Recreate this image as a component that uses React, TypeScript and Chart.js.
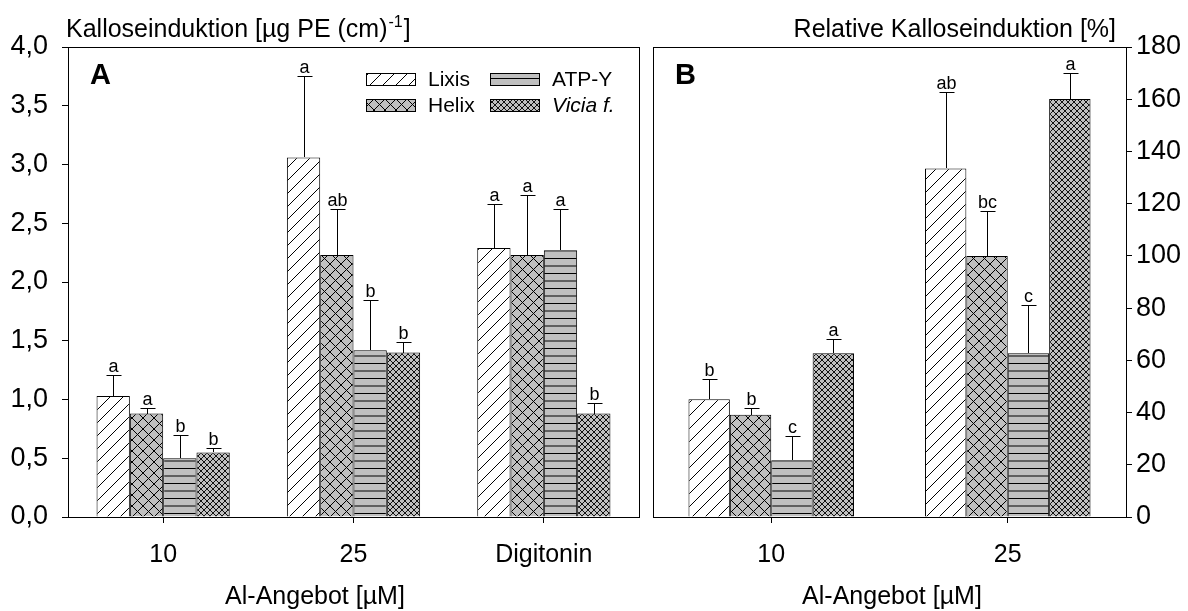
import React, { useEffect, useRef } from 'react';
import { Chart, registerables } from 'chart.js';
Chart.register(...registerables);

const FONT = '"Liberation Sans", Arial, Helvetica, sans-serif';

const seriesNames = ['Lixis', 'Helix', 'ATP-Y', 'Vicia f.'];

// Panel A
const categoriesA = ['10', '25', 'Digitonin'];
const lixisA = [1.03, 3.06, 2.29];
const helixA = [0.88, 2.23, 2.23];
const atpA = [0.5, 1.42, 2.27];
const viciaA = [0.55, 1.4, 0.88];
const lixisAErr = [1.21, 3.75, 2.66];
const helixAErr = [0.93, 2.62, 2.74];
const atpAErr = [0.7, 1.85, 2.62];
const viciaAErr = [0.59, 1.49, 0.97];
const lixisALet = ['a', 'a', 'a'];
const helixALet = ['a', 'ab', 'a'];
const atpALet = ['b', 'b', 'a'];
const viciaALet = ['b', 'b', 'b'];

// Panel B
const categoriesB = ['10', '25'];
const lixisB = [45.1, 133.5];
const helixB = [39.2, 100.0];
const atpB = [21.7, 62.7];
const viciaB = [62.7, 160.1];
const lixisBErr = [52.7, 162.8];
const helixBErr = [41.9, 117.2];
const atpBErr = [30.9, 81.3];
const viciaBErr = [68.0, 170.2];
const lixisBLet = ['b', 'ab'];
const helixBLet = ['b', 'bc'];
const atpBLet = ['c', 'c'];
const viciaBLet = ['a', 'a'];

const yTicksA = { min: 0, max: 4, step: 0.5 };
const yTicksB = { min: 0, max: 180, step: 20 };

function makePattern(kind: string): CanvasPattern {
  const c = document.createElement('canvas');
  const ctx = c.getContext('2d')!;
  if (kind === 'diag') {
    const s = 13;
    c.width = s; c.height = s;
    ctx.fillStyle = '#fff'; ctx.fillRect(0, 0, s, s);
    ctx.strokeStyle = '#000'; ctx.lineWidth = 1;
    ctx.beginPath();
    ctx.moveTo(-1, s + 1); ctx.lineTo(s + 1, -1);
    ctx.moveTo(-1, 1); ctx.lineTo(1, -1);
    ctx.moveTo(s - 1, s + 1); ctx.lineTo(s + 1, s - 1);
    ctx.stroke();
  } else if (kind === 'cross' || kind === 'dense') {
    const s = kind === 'cross' ? 11 : 6;
    c.width = s; c.height = s;
    ctx.fillStyle = '#c0c0c0'; ctx.fillRect(0, 0, s, s);
    ctx.strokeStyle = kind === 'cross' ? '#000' : '#111'; ctx.lineWidth = 1;
    ctx.beginPath();
    ctx.moveTo(-1, -1); ctx.lineTo(s + 1, s + 1);
    ctx.moveTo(-1, s + 1); ctx.lineTo(s + 1, -1);
    ctx.stroke();
  } else {
    c.width = 8; c.height = 15;
    ctx.fillStyle = '#c0c0c0'; ctx.fillRect(0, 0, 8, 15);
    ctx.fillStyle = '#000'; ctx.fillRect(0, 3, 8, 1);
    ctx.fillStyle = '#606060'; ctx.fillRect(0, 10, 8, 2);
  }
  return ctx.createPattern(c, 'repeat')!;
}

type PanelDef = {
  labels: string[];
  values: number[][];
  errs: number[][];
  letters: string[][];
  yr: { min: number; max: number; step: number };
  fmt: (v: number) => string;
  yPos: 'left' | 'right';
  yWidth: number;
  yPad: number;
  padding: { left: number; right: number; top: number; bottom: number };
  draw: (ctx: CanvasRenderingContext2D, chart: any) => void;
};

function buildConfig(p: PanelDef, patterns: CanvasPattern[]): any {
  const errPlugin = {
    id: 'errbars',
    afterDatasetsDraw(chart: any) {
      const ctx = chart.ctx as CanvasRenderingContext2D;
      const ys = chart.scales.y;
      const area = chart.chartArea;
      ctx.save();
      ctx.strokeStyle = '#000';
      ctx.lineWidth = 1;
      p.values.forEach((_, di) => {
        const meta = chart.getDatasetMeta(di);
        meta.data.forEach((el: any, i: number) => {
          const x = Math.round(el.x) + 0.5;
          const top = Math.round(el.y);
          const ey = Math.round(ys.getPixelForValue(p.errs[di][i])) + 0.5;
          ctx.beginPath();
          ctx.moveTo(x, top);
          ctx.lineTo(x, ey);
          ctx.moveTo(x - 7, ey);
          ctx.lineTo(x + 8, ey);
          ctx.stroke();
          ctx.fillStyle = '#000';
          ctx.font = `18px ${FONT}`;
          ctx.textAlign = 'center';
          ctx.textBaseline = 'alphabetic';
          ctx.fillText(p.letters[di][i], x, ey - 4);
        });
      });
      // frame
      ctx.strokeRect(Math.round(area.left) + 0.5, Math.round(area.top) + 0.5,
        Math.round(area.right - area.left), Math.round(area.bottom - area.top));
      p.draw(ctx, chart);
      ctx.restore();
    },
  };

  return {
    type: 'bar',
    data: {
      labels: p.labels,
      datasets: p.values.map((v, i) => ({
        label: seriesNames[i],
        data: v,
        backgroundColor: patterns[i],
        borderColor: '#000',
        borderWidth: 1,
        categoryPercentage: 0.7,
        barPercentage: 1.0,
      })),
    },
    options: {
      responsive: false,
      animation: false,
      devicePixelRatio: 1,
      layout: { padding: p.padding },
      plugins: { legend: { display: false }, tooltip: { enabled: false } },
      scales: {
        x: {
          grid: { offset: false, drawOnChartArea: false, drawTicks: true, tickLength: 6, color: '#000' },
          border: { display: true, color: '#000' },
          ticks: { color: '#000', font: { family: FONT, size: 25 }, padding: 17 },
          afterFit: (s: any) => { s.height = 94; },
        },
        y: {
          position: p.yPos,
          min: p.yr.min,
          max: p.yr.max,
          ticks: {
            stepSize: p.yr.step,
            color: '#000',
            font: { family: FONT, size: 27 },
            padding: p.yPad,
            callback: (v: any) => p.fmt(Number(v)),
          },
          grid: { drawOnChartArea: false, drawTicks: true, tickLength: 6, color: '#000' },
          border: { display: true, color: '#000' },
          afterFit: (s: any) => { s.width = p.yWidth; },
        },
      },
    },
    plugins: [errPlugin],
  };
}

function drawSwatch(ctx: CanvasRenderingContext2D, pat: CanvasPattern, x: number, y: number, w: number, h: number) {
  ctx.fillStyle = pat;
  ctx.fillRect(x, y, w, h);
  ctx.strokeStyle = '#000';
  ctx.lineWidth = 1;
  ctx.strokeRect(x + 0.5, y + 0.5, w - 1, h - 1);
}

export default function App() {
  const refA = useRef<HTMLCanvasElement>(null);
  const refB = useRef<HTMLCanvasElement>(null);

  useEffect(() => {
    const patterns = [makePattern('diag'), makePattern('cross'), makePattern('horiz'), makePattern('dense')];

    const defA: PanelDef = {
      labels: categoriesA,
      values: [lixisA, helixA, atpA, viciaA],
      errs: [lixisAErr, helixAErr, atpAErr, viciaAErr],
      letters: [lixisALet, helixALet, atpALet, viciaALet],
      yr: yTicksA,
      fmt: (v) => v.toFixed(1).replace('.', ','),
      yPos: 'left',
      yWidth: 68,
      yPad: 14,
      padding: { left: 0, right: 549, top: 47, bottom: 0 },
      draw: (ctx, chart) => {
        ctx.fillStyle = '#000';
        ctx.textAlign = 'left';
        ctx.textBaseline = 'alphabetic';
        ctx.font = `25px ${FONT}`;
        const main = 'Kalloseinduktion [µg PE (cm)';
        ctx.fillText(main, 66, 37);
        const w = ctx.measureText(main).width;
        ctx.font = `16px ${FONT}`;
        ctx.fillText('-1', 66 + w + 1, 27);
        const w2 = ctx.measureText('-1').width;
        ctx.font = `25px ${FONT}`;
        ctx.fillText(']', 66 + w + w2 + 2, 37);
        ctx.font = `bold 29px ${FONT}`;
        ctx.fillText('A', 90, 84);
        ctx.font = `25px ${FONT}`;
        ctx.textAlign = 'center';
        ctx.fillText('Al-Angebot [µM]', 315, 604);
        // legend
        const sw = 50, sh = 13;
        const cols = [366, 490];
        const rows = [73, 99];
        const order = [[0, 2], [1, 3]];
        ctx.textAlign = 'left';
        ctx.textBaseline = 'middle';
        for (let r = 0; r < 2; r++) {
          for (let c = 0; c < 2; c++) {
            const di = order[r][c];
            drawSwatch(ctx, patterns[di], cols[c], rows[r], sw, sh);
            ctx.fillStyle = '#000';
            ctx.font = di === 3 ? `italic 21px ${FONT}` : `21px ${FONT}`;
            ctx.fillText(seriesNames[di], cols[c] + sw + 12, rows[r] + sh / 2 + 1);
          }
        }
      },
    };

    const defB: PanelDef = {
      labels: categoriesB,
      values: [lixisB, helixB, atpB, viciaB],
      errs: [lixisBErr, helixBErr, atpBErr, viciaBErr],
      letters: [lixisBLet, helixBLet, atpBLet, viciaBLet],
      yr: yTicksB,
      fmt: (v) => String(Math.round(v)),
      yPos: 'right',
      yWidth: 62,
      yPad: 4,
      padding: { left: 653, right: 0, top: 47, bottom: 0 },
      draw: (ctx, chart) => {
        ctx.fillStyle = '#000';
        ctx.textBaseline = 'alphabetic';
        ctx.font = `25px ${FONT}`;
        ctx.textAlign = 'right';
        ctx.fillText('Relative Kalloseinduktion [%]', 1116, 37);
        ctx.textAlign = 'left';
        ctx.font = `bold 29px ${FONT}`;
        ctx.fillText('B', 675, 84);
        ctx.font = `25px ${FONT}`;
        ctx.textAlign = 'center';
        ctx.fillText('Al-Angebot [µM]', 892, 604);
      },
    };

    const chartA = new Chart(refA.current!, buildConfig(defA, patterns));
    const chartB = new Chart(refB.current!, buildConfig(defB, patterns));
    return () => {
      chartA.destroy();
      chartB.destroy();
    };
  }, []);

  return (
    <div style={{ position: 'fixed', left: 0, top: 0, width: 1188, height: 611, background: '#fff' }}>
      <canvas ref={refA} width={1188} height={611} style={{ position: 'absolute', left: 0, top: 0 }} />
      <canvas ref={refB} width={1188} height={611} style={{ position: 'absolute', left: 0, top: 0 }} />
    </div>
  );
}
